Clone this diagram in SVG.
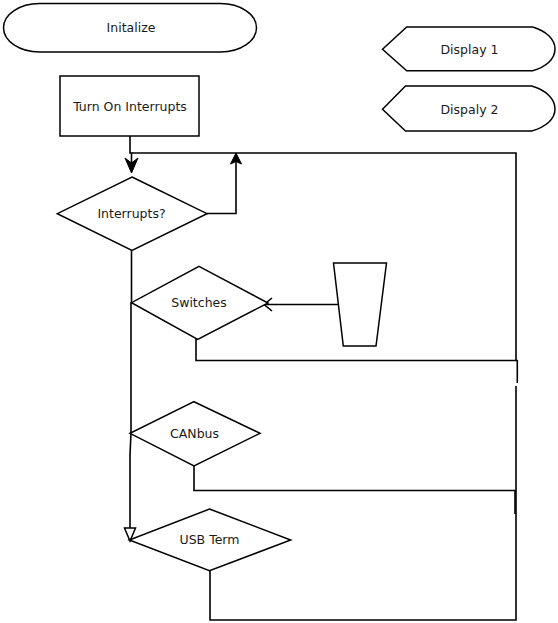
<svg xmlns="http://www.w3.org/2000/svg" width="558" height="623" viewBox="0 0 558 623">
<style>
.s{fill:#fff;stroke:#000;stroke-width:1.5}
.c{fill:none;stroke:#000;stroke-width:1.6}
.t{font-family:"DejaVu Sans",sans-serif;font-size:12.5px;fill:#1a1a1a;text-anchor:middle}
.ah{fill:#000;stroke:#000;stroke-width:1}
</style>
<rect width="558" height="623" fill="#fff"/>
<g id="connectors">
<polyline class="c" points="130,136 130,153 131.5,153 131.5,166"/>
<path class="ah" d="M131.5,173 L125,158 L131.5,163 L138,158 Z"/>
<polyline class="c" points="131.5,153 516,153 516,360.5"/>
<polyline class="c" points="207,213.5 236,213.5 236,160"/>
<path class="ah" d="M236,153 L230.5,164 L236,161.5 L241.5,164 Z"/>
<polyline class="c" points="131.5,250.5 131.5,303 131,303 131,433 130,455 130,536"/>
<path d="M124.5,528 L135.5,528 L130,541 Z" fill="#fff" stroke="#000" stroke-width="1.5"/>
<line class="c" x1="339" y1="304.5" x2="265" y2="304.5"/>
<path class="c" d="M272,298 L264,304.5 L272,311"/>
<polyline class="c" points="197,339 196,339 196,360.5 517.3,360.5 517.3,383"/>
<polyline class="c" points="194,466 194,490.5 515,490.5 515,514"/>
<polyline class="c" points="210,571 210,620 516,620 516,386"/>
</g>
<g id="initialize">
<rect class="s" x="3.5" y="3.5" width="253" height="48.5" rx="36" ry="24.25"/>
<text class="t" x="131" y="32">Initalize</text>
</g>
<g id="turn-on-interrupts">
<rect class="s" x="60" y="76" width="139" height="60"/>
<text class="t" x="130" y="110.5">Turn On Interrupts</text>
</g>
<g id="display1">
<path class="s" d="M382.5,49.3 L406.7,27 L532.7,27 C546,31 555,39 555,49 C555,59 546,67 532.7,70.7 L406.7,70.7 Z"/>
<text class="t" x="469.5" y="54">Display 1</text>
</g>
<g id="display2">
<path class="s" d="M382.5,109.3 L405.5,86 L531.7,86 C546,90 555,99 555,109 C555,119 546,127 531.7,131 L405.5,131 Z"/>
<text class="t" x="469.5" y="114">Dispaly 2</text>
</g>
<g id="interrupts">
<path class="s" d="M132,177 L207,213.7 L132,250.5 L57.3,213.7 Z"/>
<text class="t" x="131.5" y="218">Interrupts?</text>
</g>
<g id="switches">
<path class="s" d="M199,266.3 L268,303 L197.7,339.3 L131.5,302.7 Z"/>
<text class="t" x="199" y="307">Switches</text>
</g>
<path id="switches-input" class="s" d="M333.5,263 L386.5,263 L376,346 L343.3,346 Z"/>
<g id="canbus">
<path class="s" d="M194,401.7 L260,433.3 L194,466 L130,433.3 Z"/>
<text class="t" x="194.5" y="438">CANbus</text>
</g>
<g id="usb-term">
<path class="s" d="M209.5,509 L290.7,540 L209.5,570.7 L129.3,540 Z"/>
<text class="t" x="209.5" y="544">USB Term</text>
</g>
</svg>
